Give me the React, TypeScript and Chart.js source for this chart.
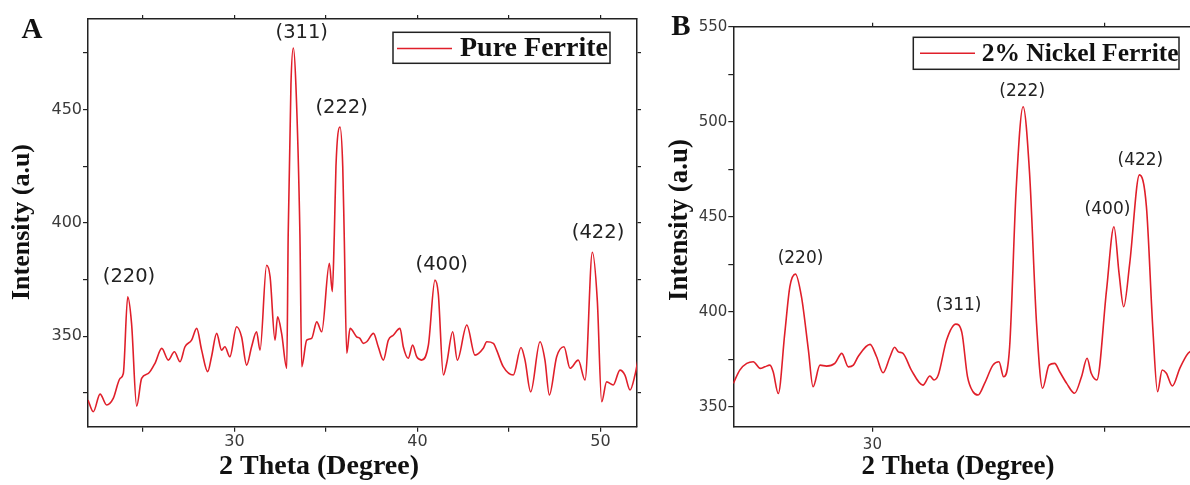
import React, { useEffect, useRef } from 'react';
import { Chart, registerables } from 'chart.js';

Chart.register(...registerables);

// ---------- Panel A: Pure Ferrite ----------
const pureTheta = [
  22.0, 22.29, 22.66, 23.02, 23.38, 23.75, 23.93, 24.17, 24.38, 24.66, 24.93, 25.3, 25.66, 26.03, 26.39,
  26.72, 27.03, 27.3, 27.66, 27.94, 28.21, 28.54, 28.75, 29.03, 29.3, 29.48, 29.75, 30.12, 30.39, 30.67,
  30.94, 31.21, 31.4, 31.76, 31.95, 32.22, 32.36, 32.58, 32.86, 32.94, 33.09, 33.22, 33.36, 33.58, 33.68,
  33.95, 34.22, 34.5, 34.77, 35.19, 35.35, 35.46, 35.55, 35.77, 35.92, 36.0, 36.14, 36.32, 36.68, 36.86,
  37.04, 37.23, 37.6, 37.86, 38.14, 38.41, 38.68, 39.05, 39.23, 39.5, 39.74, 39.96, 40.23, 40.6, 40.96,
  41.14, 41.42, 41.6, 41.93, 42.18, 42.7, 43.15, 43.6, 43.79, 44.15, 44.33, 44.69, 45.24, 45.66, 45.88,
  46.19, 46.7, 46.97, 47.21, 47.61, 48.01, 48.34, 48.79, 49.16, 49.56, 49.83, 50.07, 50.34, 50.7, 51.07,
  51.34, 51.62, 51.89, 52.07,
];
const pureIntensity = [
  321.8, 316.6, 324.4, 319.6, 322.5, 331.3, 333.5, 367.3, 355.6, 319.1, 331.3, 333.5, 338.0, 344.6, 339.4,
  343.1, 338.7, 345.3, 348.2, 353.4, 343.8, 334.3, 340.9, 351.2, 343.8, 345.3, 340.9, 354.1, 349.7, 337.2,
  345.3, 351.9, 343.8, 381.3, 376.2, 348.2, 358.5, 351.2, 335.8, 395.0, 461.0, 477.2, 461.0, 395.0, 336.5,
  348.2, 349.0, 356.3, 351.9, 382.1, 369.6, 395.0, 425.0, 442.3, 425.0, 395.0, 342.4, 353.4, 349.7, 349.0,
  346.8, 347.5, 351.2, 345.3, 339.4, 348.2, 350.4, 353.4, 345.3, 340.2, 346.0, 340.9, 339.4, 346.0, 374.7,
  368.8, 332.8, 338.0, 351.9, 339.4, 354.9, 341.6, 344.6, 347.5, 346.8, 343.8, 336.5, 332.8, 345.0, 339.4,
  325.4, 347.5, 339.4, 324.0, 340.9, 345.3, 335.8, 339.4, 330.6, 387.0, 365.9, 321.0, 329.8, 328.4, 335.0,
  332.8, 326.2, 332.8, 340.2,
];
const purePeakLabels = ['(220)', '(311)', '(222)', '(400)', '(422)'];
const purePeakTheta = [24.24, 33.68, 35.86, 41.33, 49.87];
const purePeakIntensity = [376.2, 483.7, 450.6, 381.3, 395.4];
const pureXTicks = [25, 30, 35, 40, 45, 50];
const pureXTickLabels = ['', '30', '', '40', '', '50'];
const pureYTicks = [325, 350, 375, 400, 425, 450, 475];
const pureYTickLabels = ['', '350', '', '400', '', '450', ''];

// ---------- Panel B: 2% Nickel Ferrite ----------
const nickelTheta = [
  27.0, 27.14, 27.29, 27.43, 27.58, 27.68, 27.79, 27.86, 27.97, 28.11, 28.22, 28.34, 28.47, 28.62, 28.72,
  28.87, 29.01, 29.19, 29.34, 29.48, 29.59, 29.69, 29.95, 30.09, 30.23, 30.38, 30.48, 30.56, 30.66, 30.84,
  31.09, 31.24, 31.33, 31.42, 31.6, 31.8, 31.93, 32.05, 32.17, 32.28, 32.42, 32.6, 32.73, 32.83, 32.96,
  33.1, 33.25, 33.39, 33.54, 33.67, 33.81, 33.93, 34.04, 34.19, 34.36, 34.51, 34.63, 34.72, 34.84, 35.05,
  35.21, 35.32, 35.42, 35.55, 35.76, 35.91, 36.05, 36.15, 36.25, 36.34, 36.47, 36.63, 36.81, 36.95,
];
const nickelIntensity = [
  362.3, 369.3, 372.8, 373.7, 370.2, 371.0, 371.9, 368.4, 357.0, 388.6, 413.2, 419.8, 407.9, 379.8, 360.5,
  371.9, 371.4, 372.8, 378.1, 371.0, 371.9, 376.3, 382.8, 376.3, 367.9, 376.3, 381.3, 378.9, 378.1, 369.3,
  361.4, 366.2, 364.1, 366.7, 385.1, 393.5, 389.0, 366.0, 357.9, 356.2, 362.3, 371.9, 373.7, 365.8, 381.6,
  464.1, 507.9, 472.8, 393.9, 359.7, 371.9, 372.8, 368.4, 362.3, 357.1, 365.8, 375.5, 367.6, 364.1, 411.4,
  444.7, 420.2, 402.6, 425.5, 472.0, 455.3, 390.4, 357.9, 369.3, 367.6, 360.9, 370.2, 378.1, 380.0,
];
const nickelPeakLabels = ['(220)', '(311)', '(222)', '(400)', '(422)'];
const nickelPeakTheta = [28.45, 31.86, 33.23, 35.07, 35.78];
const nickelPeakIntensity = [428.1, 403.5, 515.8, 453.9, 479.3];
const nickelXTicks = [30, 35];
const nickelXTickLabels = ['30', ''];
const nickelYTicks = [350, 375, 400, 425, 450, 475, 500, 525, 550];
const nickelYTickLabels = ['350', '', '400', '', '450', '', '500', '', '550'];

const xTitle = '2 Theta (Degree)';
const yTitle = 'Intensity (a.u)';

const SERIF = '"Liberation Serif", "Times New Roman", serif';
const SANS = '"DejaVu Sans", Verdana, sans-serif';
const LINE_COLOR = '#e01f2a';
const AXIS_COLOR = '#222';

type Panel = {
  letter: string;
  label: string;
  theta: number[];
  intensity: number[];
  peakLabels: string[];
  peakTheta: number[];
  peakIntensity: number[];
  xTicks: number[]; xTickLabels: string[];
  yTicks: number[]; yTickLabels: string[];
  xMin: number; xMax: number; yMin: number; yMax: number;
  leftW: number; rightW: number; topH: number; bottomH: number;
  tickFont: number; tickPadX: number; peakFont: number;
  letterFont: number; letterX: number; letterY: number;
  yTitleFont: number; yTitleX: number; yTitleY: number;
  xTitleFont: number; xTitleX: number; xTitleY: number;
  legBox: [number, number, number, number];
  legLine: [number, number, number];
  legTextX: number; legFont: number;
  rightAxis: boolean;
};

const panelA: Panel = {
  letter: 'A', label: 'Pure Ferrite',
  theta: pureTheta, intensity: pureIntensity,
  peakLabels: purePeakLabels, peakTheta: purePeakTheta, peakIntensity: purePeakIntensity,
  xTicks: pureXTicks, xTickLabels: pureXTickLabels, yTicks: pureYTicks, yTickLabels: pureYTickLabels,
  xMin: 22, xMax: 52, yMin: 310, yMax: 490,
  leftW: 88, rightW: 13, topH: 19, bottomH: 58.3,
  tickFont: 16, tickPadX: 1, peakFont: 19.5,
  letterFont: 29, letterX: 32, letterY: 31,
  yTitleFont: 26, yTitleX: 22, yTitleY: 222,
  xTitleFont: 28, xTitleX: 319, xTitleY: 467,
  legBox: [393, 32.3, 217, 31], legLine: [397, 452, 48.5], legTextX: 460, legFont: 28,
  rightAxis: true,
};

const panelB: Panel = {
  letter: 'B', label: '2% Nickel Ferrite',
  theta: nickelTheta, intensity: nickelIntensity,
  peakLabels: nickelPeakLabels, peakTheta: nickelPeakTheta, peakIntensity: nickelPeakIntensity,
  xTicks: nickelXTicks, xTickLabels: nickelXTickLabels, yTicks: nickelYTicks, yTickLabels: nickelYTickLabels,
  xMin: 27, xMax: 36.85, yMin: 339.5, yMax: 550,
  leftW: 83.3, rightW: 0, topH: 26.7, bottomH: 58.3,
  tickFont: 15, tickPadX: 4, peakFont: 17,
  letterFont: 29, letterX: 31, letterY: 28,
  yTitleFont: 27, yTitleX: 30, yTitleY: 220,
  xTitleFont: 27, xTitleX: 308, xTitleY: 467,
  legBox: [263.3, 37.3, 265.7, 32], legLine: [270, 325, 53.3], legTextX: 331.7, legFont: 25.5,
  rightAxis: false,
};

function makePanel(canvas: HTMLCanvasElement, p: Panel) {
  const decor = {
    id: 'decor',
    afterDraw(chart: any) {
      const ctx: CanvasRenderingContext2D = chart.ctx;
      const xs = chart.scales.x;
      const ys = chart.scales.y;
      ctx.save();
      // peak labels
      ctx.fillStyle = '#222';
      ctx.font = `${p.peakFont}px ${SANS}`;
      ctx.textAlign = 'center';
      ctx.textBaseline = 'middle';
      p.peakLabels.forEach((t, i) => {
        ctx.fillText(t, xs.getPixelForValue(p.peakTheta[i]), ys.getPixelForValue(p.peakIntensity[i]));
      });
      // panel letter
      ctx.fillStyle = '#111';
      ctx.font = `bold ${p.letterFont}px ${SERIF}`;
      ctx.fillText(p.letter, p.letterX, p.letterY);
      // x title
      ctx.font = `bold ${p.xTitleFont}px ${SERIF}`;
      ctx.fillText(xTitle, p.xTitleX, p.xTitleY);
      // y title
      ctx.save();
      ctx.translate(p.yTitleX, p.yTitleY);
      ctx.rotate(-Math.PI / 2);
      ctx.font = `bold ${p.yTitleFont}px ${SERIF}`;
      ctx.fillText(yTitle, 0, 0);
      ctx.restore();
      // legend
      const ds = chart.data.datasets[0];
      const [bx, by, bw, bh] = p.legBox;
      ctx.fillStyle = '#fff';
      ctx.fillRect(bx, by, bw, bh);
      ctx.strokeStyle = AXIS_COLOR;
      ctx.lineWidth = 1.5;
      ctx.strokeRect(bx, by, bw, bh);
      ctx.strokeStyle = ds.borderColor;
      ctx.lineWidth = 1.4;
      ctx.beginPath();
      ctx.moveTo(p.legLine[0], p.legLine[2]);
      ctx.lineTo(p.legLine[1], p.legLine[2]);
      ctx.stroke();
      ctx.fillStyle = '#111';
      ctx.textAlign = 'left';
      ctx.font = `bold ${p.legFont}px ${SERIF}`;
      ctx.fillText(ds.label, p.legTextX, by + bh / 2 + 1);
      ctx.restore();
    },
  };

  const setTicks = (vals: number[]) => (s: any) => {
    s.ticks = vals.map((v) => ({ value: v }));
  };
  const labelFrom = (vals: number[], labels: string[]) => (v: any) => {
    const i = vals.findIndex((t) => Math.abs(t - v) < 1e-6);
    return i >= 0 ? labels[i] : '';
  };

  const gridCommon = {
    drawOnChartArea: false,
    drawTicks: true,
    tickLength: 5,
    color: AXIS_COLOR,
    lineWidth: 1.2,
  };
  const borderCommon = { display: true, color: AXIS_COLOR, width: 1.5 };

  const scales: any = {
    x: {
      type: 'linear', position: 'bottom', min: p.xMin, max: p.xMax,
      afterBuildTicks: setTicks(p.xTicks),
      afterFit: (s: any) => { s.height = p.bottomH; },
      border: borderCommon, grid: gridCommon,
      ticks: {
        autoSkip: false, maxRotation: 0, minRotation: 0,
        padding: p.tickPadX, color: '#3a3a3a',
        font: { family: SANS, size: p.tickFont },
        callback: labelFrom(p.xTicks, p.xTickLabels),
      },
    },
    x2: {
      type: 'linear', axis: 'x', position: 'top', min: p.xMin, max: p.xMax,
      afterBuildTicks: setTicks(p.xTicks),
      afterFit: (s: any) => { s.height = p.topH; },
      border: borderCommon, grid: { ...gridCommon, tickLength: 4 },
      ticks: { autoSkip: false, maxRotation: 0, font: { size: 1 }, callback: () => '' },
    },
    y: {
      type: 'linear', position: 'left', min: p.yMin, max: p.yMax,
      afterBuildTicks: setTicks(p.yTicks),
      afterFit: (s: any) => { s.width = p.leftW; },
      border: borderCommon, grid: gridCommon,
      ticks: {
        autoSkip: false, padding: 1, color: '#3a3a3a',
        font: { family: SANS, size: p.tickFont },
        callback: labelFrom(p.yTicks, p.yTickLabels),
      },
    },
  };
  if (p.rightAxis) {
    scales.y2 = {
      type: 'linear', axis: 'y', position: 'right', min: p.yMin, max: p.yMax,
      afterBuildTicks: setTicks(p.yTicks),
      afterFit: (s: any) => { s.width = p.rightW; },
      border: borderCommon, grid: { ...gridCommon, tickLength: 4 },
      ticks: { autoSkip: false, font: { size: 1 }, callback: () => '' },
    };
  }

  return new Chart(canvas, {
    type: 'line',
    data: {
      datasets: [
        {
          label: p.label,
          data: p.theta.map((t, i) => ({ x: t, y: p.intensity[i] })),
          borderColor: LINE_COLOR,
          borderWidth: 1.6,
          pointRadius: 0,
          cubicInterpolationMode: 'monotone',
          fill: false,
        },
      ],
    },
    options: {
      responsive: false,
      animation: false,
      events: [],
      layout: { padding: 0 },
      plugins: { legend: { display: false }, tooltip: { enabled: false } },
      scales,
    } as any,
    plugins: [decor],
  });
}

export default function App() {
  const leftRef = useRef<HTMLCanvasElement>(null);
  const rightRef = useRef<HTMLCanvasElement>(null);
  useEffect(() => {
    const a = makePanel(leftRef.current as HTMLCanvasElement, panelA);
    const b = makePanel(rightRef.current as HTMLCanvasElement, panelB);
    return () => {
      a.destroy();
      b.destroy();
    };
  }, []);
  return (
    <div style={{ position: 'absolute', left: 0, top: 0, width: 1190, height: 485, overflow: 'hidden', background: '#fff' }}>
      <canvas ref={leftRef} width={650} height={485} style={{ position: 'absolute', left: 0, top: 0, width: 650, height: 485 }} />
      <canvas ref={rightRef} width={540} height={485} style={{ position: 'absolute', left: 650, top: 0, width: 540, height: 485 }} />
    </div>
  );
}
